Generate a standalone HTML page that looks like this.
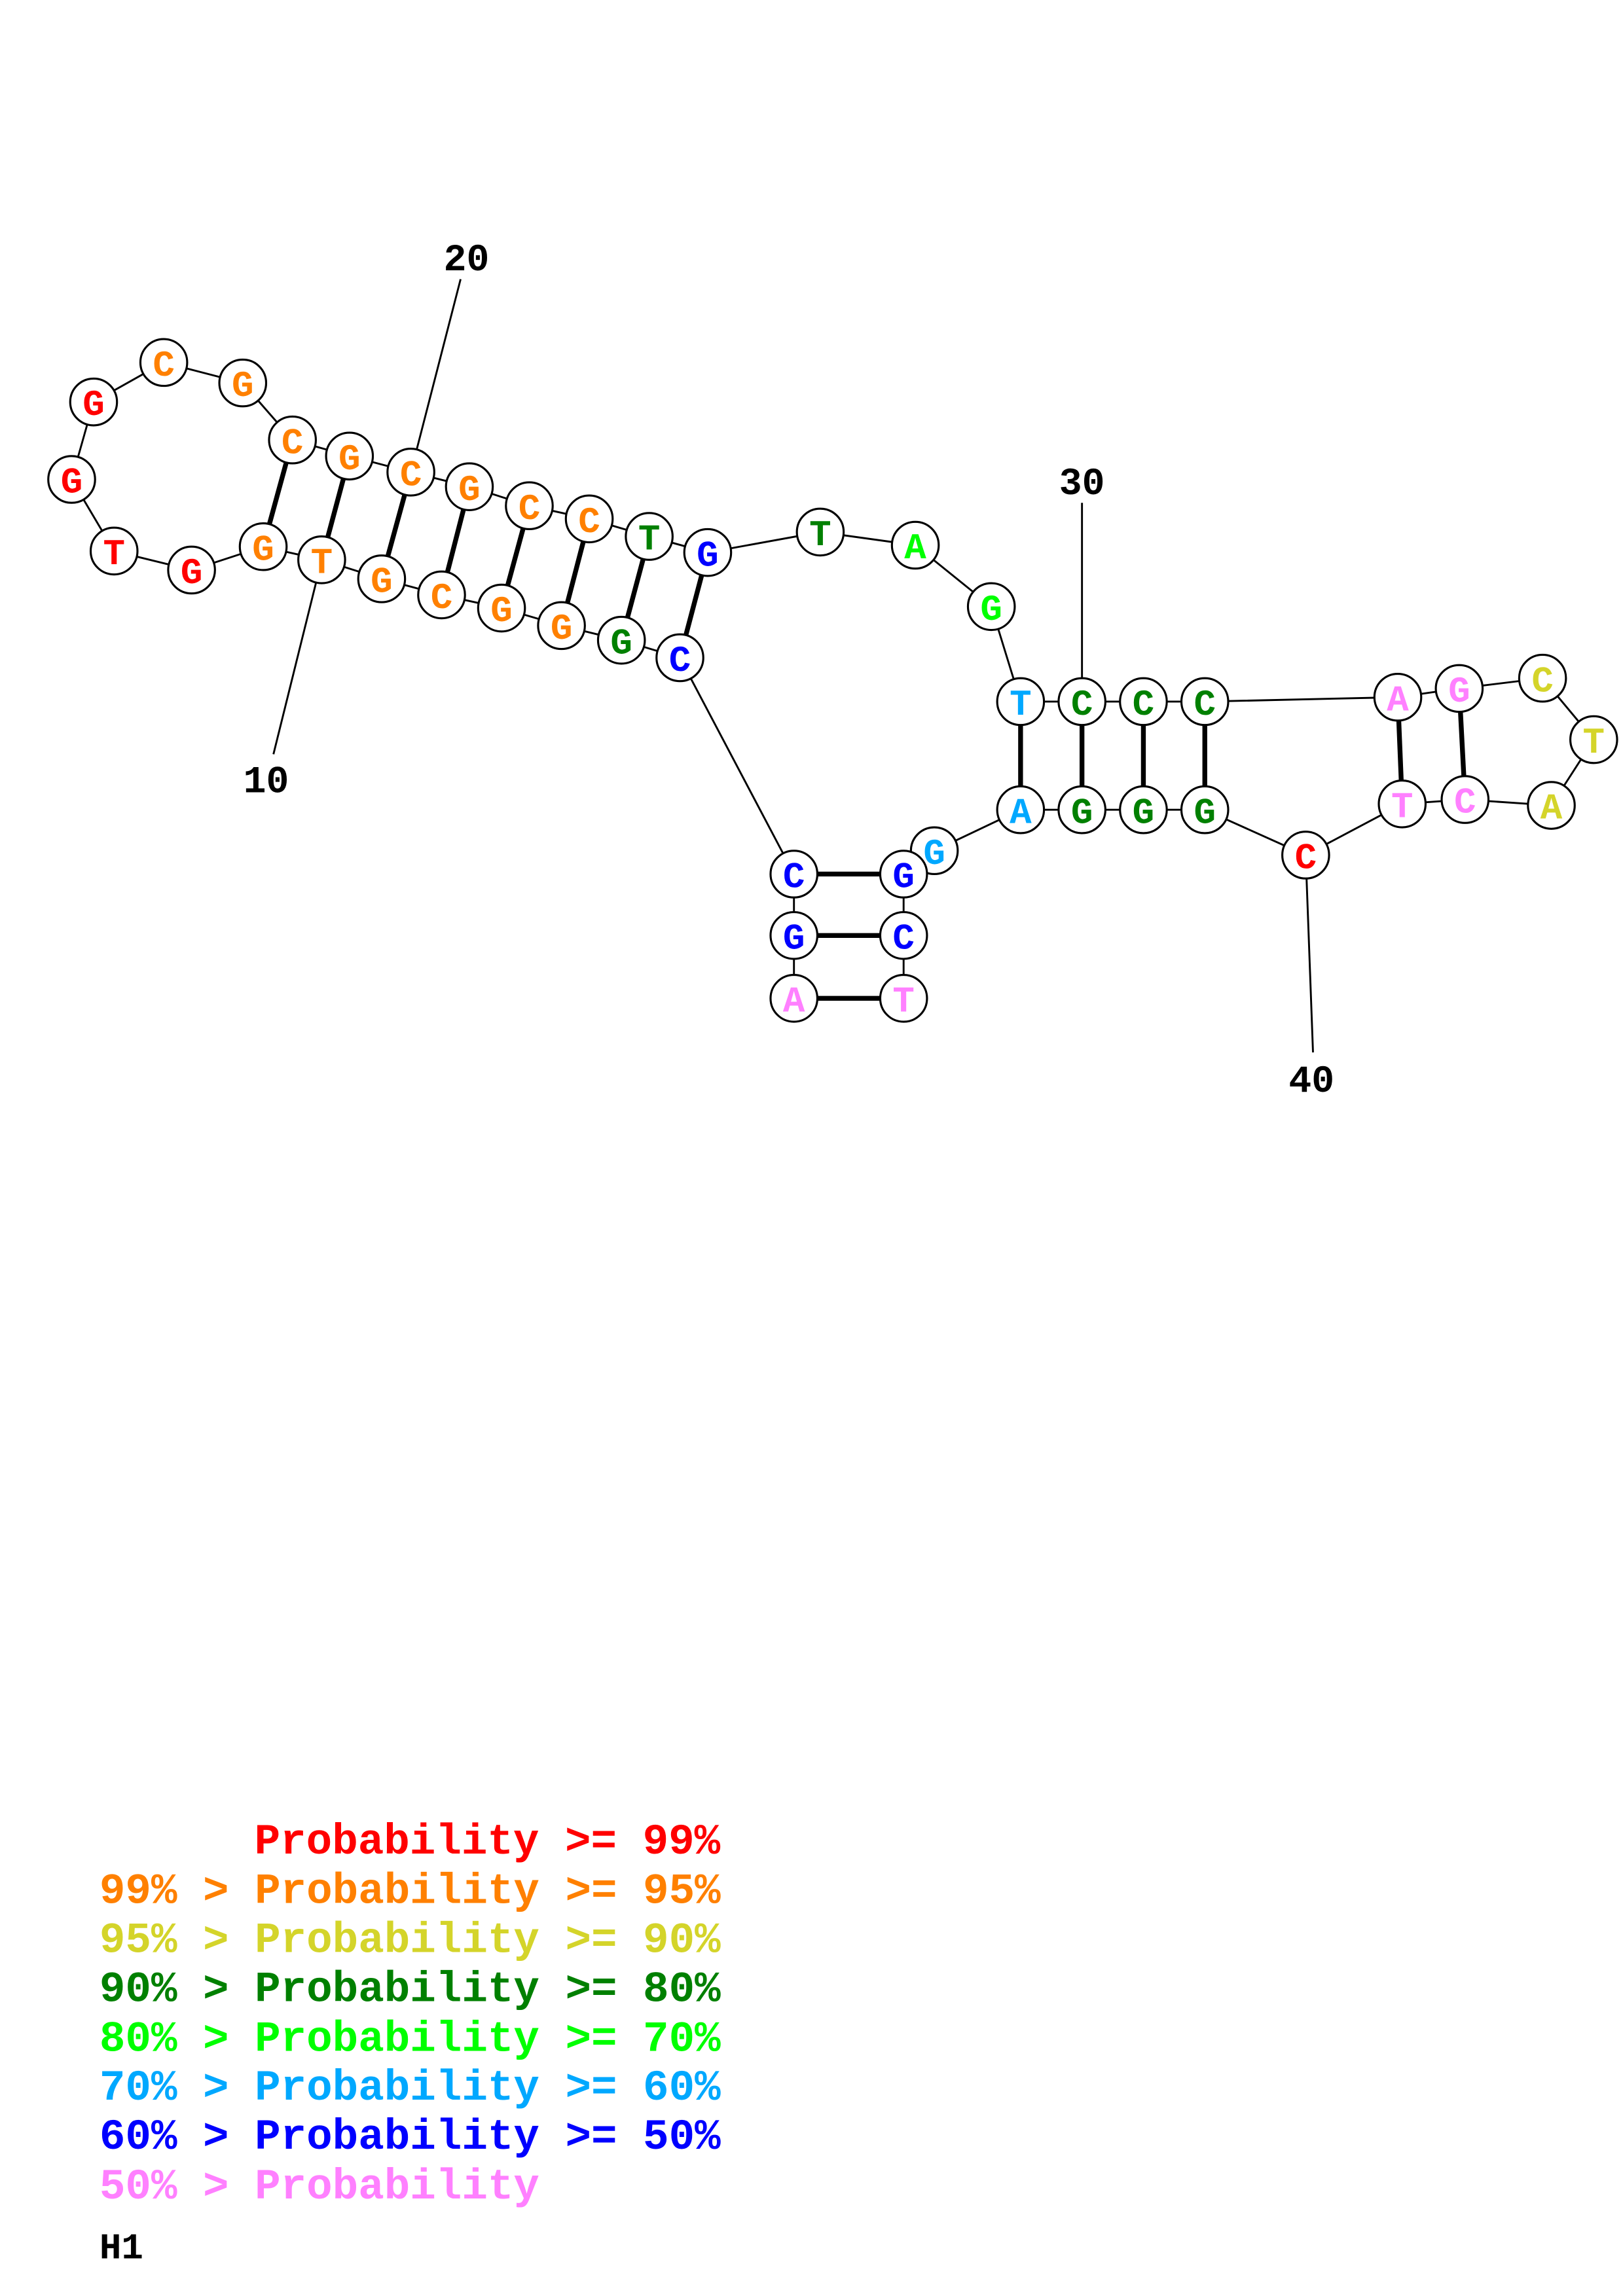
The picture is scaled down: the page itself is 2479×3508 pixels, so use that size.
<!DOCTYPE html>
<html><head><meta charset="utf-8"><style>html,body{margin:0;padding:0;background:#fff}svg{display:block}</style></head>
<body>
<svg xmlns="http://www.w3.org/2000/svg" width="2479" height="3508" viewBox="0 0 1110 1570.8">
<rect width="1110" height="1571" fill="#fff"/>
<g stroke="#000" stroke-width="1.3">
<line x1="187" y1="516" x2="220" y2="383"/>
<line x1="315" y1="191" x2="281" y2="323"/>
<line x1="740" y1="344" x2="740" y2="480"/>
<line x1="898" y1="720" x2="893" y2="585"/>
<polyline fill="none" points="543,683 543,640 543,598 465,450 425,438 384,428 343,416 302,407 261,396 220,383 180,374 131,390 78,377 49,328 64,275 112,248 166,262 200,301 239,312 281,323 321,333 362,346 403,355 444,367 484,378 561,364 626,373 678,415 698,480 740,480 782,480 824,480 956,477 998,471 1055,464 1090,506 1061,551 1002,547 959,550 893,585 824,554 782,554 740,554 698,554 639,582 618,598 618,640 618,683"/>
</g>
<g stroke="#000" stroke-width="3.3">
<line x1="543" y1="683" x2="618" y2="683"/>
<line x1="543" y1="640" x2="618" y2="640"/>
<line x1="543" y1="598" x2="618" y2="598"/>
<line x1="465" y1="450" x2="484" y2="378"/>
<line x1="425" y1="438" x2="444" y2="367"/>
<line x1="384" y1="428" x2="403" y2="355"/>
<line x1="343" y1="416" x2="362" y2="346"/>
<line x1="302" y1="407" x2="321" y2="333"/>
<line x1="261" y1="396" x2="281" y2="323"/>
<line x1="220" y1="383" x2="239" y2="312"/>
<line x1="180" y1="374" x2="200" y2="301"/>
<line x1="698" y1="480" x2="698" y2="554"/>
<line x1="740" y1="480" x2="740" y2="554"/>
<line x1="782" y1="480" x2="782" y2="554"/>
<line x1="824" y1="480" x2="824" y2="554"/>
<line x1="956" y1="477" x2="959" y2="550"/>
<line x1="998" y1="471" x2="1002" y2="547"/>
</g>
<g font-family="'Liberation Mono', monospace" font-weight="bold" font-size="25" text-anchor="middle">
<g stroke="#000" stroke-width="1.4" fill="#fff">
<circle cx="543" cy="683" r="16"/><circle cx="543" cy="640" r="16"/><circle cx="543" cy="598" r="16"/>
<circle cx="465" cy="450" r="16"/><circle cx="425" cy="438" r="16"/><circle cx="384" cy="428" r="16"/>
<circle cx="343" cy="416" r="16"/><circle cx="302" cy="407" r="16"/><circle cx="261" cy="396" r="16"/>
<circle cx="220" cy="383" r="16"/><circle cx="180" cy="374" r="16"/><circle cx="131" cy="390" r="16"/>
<circle cx="78" cy="377" r="16"/><circle cx="49" cy="328" r="16"/><circle cx="64" cy="275" r="16"/>
<circle cx="112" cy="248" r="16"/><circle cx="166" cy="262" r="16"/><circle cx="200" cy="301" r="16"/>
<circle cx="239" cy="312" r="16"/><circle cx="281" cy="323" r="16"/><circle cx="321" cy="333" r="16"/>
<circle cx="362" cy="346" r="16"/><circle cx="403" cy="355" r="16"/><circle cx="444" cy="367" r="16"/>
<circle cx="484" cy="378" r="16"/><circle cx="561" cy="364" r="16"/><circle cx="626" cy="373" r="16"/>
<circle cx="678" cy="415" r="16"/><circle cx="698" cy="480" r="16"/><circle cx="740" cy="480" r="16"/>
<circle cx="782" cy="480" r="16"/><circle cx="824" cy="480" r="16"/><circle cx="956" cy="477" r="16"/>
<circle cx="998" cy="471" r="16"/><circle cx="1055" cy="464" r="16"/><circle cx="1090" cy="506" r="16"/>
<circle cx="1061" cy="551" r="16"/><circle cx="1002" cy="547" r="16"/><circle cx="959" cy="550" r="16"/>
<circle cx="893" cy="585" r="16"/><circle cx="824" cy="554" r="16"/><circle cx="782" cy="554" r="16"/>
<circle cx="740" cy="554" r="16"/><circle cx="698" cy="554" r="16"/><circle cx="639" cy="582" r="16"/>
</g>
<g>
<text x="543" y="692" fill="#ff80ff">A</text>
<text x="543" y="649" fill="#0000ff">G</text>
<text x="543" y="607" fill="#0000ff">C</text>
<text x="465" y="459" fill="#0000ff">C</text>
<text x="425" y="447" fill="#008000">G</text>
<text x="384" y="437" fill="#ff8000">G</text>
<text x="343" y="425" fill="#ff8000">G</text>
<text x="302" y="416" fill="#ff8000">C</text>
<text x="261" y="405" fill="#ff8000">G</text>
<text x="220" y="392" fill="#ff8000">T</text>
<text x="180" y="383" fill="#ff8000">G</text>
<text x="131" y="399" fill="#ff0000">G</text>
<text x="78" y="386" fill="#ff0000">T</text>
<text x="49" y="337" fill="#ff0000">G</text>
<text x="64" y="284" fill="#ff0000">G</text>
<text x="112" y="257" fill="#ff8000">C</text>
<text x="166" y="271" fill="#ff8000">G</text>
<text x="200" y="310" fill="#ff8000">C</text>
<text x="239" y="321" fill="#ff8000">G</text>
<text x="281" y="332" fill="#ff8000">C</text>
<text x="321" y="342" fill="#ff8000">G</text>
<text x="362" y="355" fill="#ff8000">C</text>
<text x="403" y="364" fill="#ff8000">C</text>
<text x="444" y="376" fill="#008000">T</text>
<text x="484" y="387" fill="#0000ff">G</text>
<text x="561" y="373" fill="#008000">T</text>
<text x="626" y="382" fill="#00ff00">A</text>
<text x="678" y="424" fill="#00ff00">G</text>
<text x="698" y="489" fill="#00a8ff">T</text>
<text x="740" y="489" fill="#008000">C</text>
<text x="782" y="489" fill="#008000">C</text>
<text x="824" y="489" fill="#008000">C</text>
<text x="956" y="486" fill="#ff80ff">A</text>
<text x="998" y="480" fill="#ff80ff">G</text>
<text x="1055" y="473" fill="#d4d42a">C</text>
<text x="1090" y="515" fill="#d4d42a">T</text>
<text x="1061" y="560" fill="#d4d42a">A</text>
<text x="1002" y="556" fill="#ff80ff">C</text>
<text x="959" y="559" fill="#ff80ff">T</text>
<text x="893" y="594" fill="#ff0000">C</text>
<text x="824" y="563" fill="#008000">G</text>
<text x="782" y="563" fill="#008000">G</text>
<text x="740" y="563" fill="#008000">G</text>
<text x="698" y="563" fill="#00a8ff">A</text>
<text x="639" y="591" fill="#00a8ff">G</text>
</g>
<g stroke="#000" stroke-width="1.4" fill="#fff">
<circle cx="618" cy="598" r="16"/><circle cx="618" cy="640" r="16"/><circle cx="618" cy="683" r="16"/>
</g>
<text x="618" y="607" fill="#0000ff">G</text>
<text x="618" y="649" fill="#0000ff">C</text>
<text x="618" y="692" fill="#ff80ff">T</text>
</g>
<g font-family="'Liberation Mono', monospace" font-weight="bold" font-size="26" text-anchor="middle" fill="#000">
<text x="319" y="185">20</text>
<text x="182" y="542">10</text>
<text x="740" y="338">30</text>
<text x="897" y="747">40</text>
</g>
<g font-family="'Liberation Mono', monospace" font-weight="bold" font-size="29.5">
<text x="174" y="1268" fill="#ff0000">Probability &gt;= 99%</text>
<text x="68" y="1302" fill="#ff8000">99% &gt; Probability &gt;= 95%</text>
<text x="68" y="1335.6" fill="#d4d42a">95% &gt; Probability &gt;= 90%</text>
<text x="68" y="1369" fill="#008000">90% &gt; Probability &gt;= 80%</text>
<text x="68" y="1403" fill="#00ff00">80% &gt; Probability &gt;= 70%</text>
<text x="68" y="1436.5" fill="#00a8ff">70% &gt; Probability &gt;= 60%</text>
<text x="68" y="1470" fill="#0000ff">60% &gt; Probability &gt;= 50%</text>
<text x="68" y="1504" fill="#ff80ff">50% &gt; Probability</text>
<text x="68" y="1545" fill="#000" font-size="25">H1</text>
</g>
</svg>
</body></html>
